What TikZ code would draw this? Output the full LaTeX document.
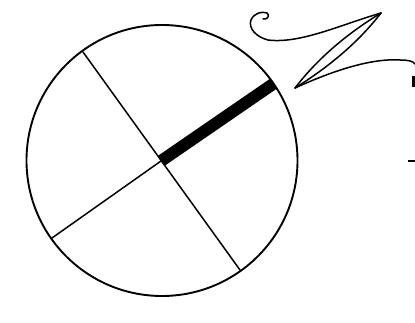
\documentclass[tikz,border=0pt]{standalone}
\usetikzlibrary{calc}
\begin{document}
\begin{tikzpicture}[x=1pt,y=-1pt,
  thinline/.style={line width=1.5pt, line cap=round, line join=round},
  rimline/.style={line width=1.9pt},
  barline/.style={line width=12pt}]
\useasboundingbox (0,0) rectangle (415,323);
\coordinate (c) at (161,161);
\coordinate (a1) at (83,52);
\coordinate (a2) at (240,270);
\coordinate (b1) at (52,238);
\coordinate (b2) at (273,84);
% spokes
\draw[thinline] (a1) -- (a2);
\draw[thinline] (b1) -- (c);
\begin{scope}
\clip (162,160.5) circle[radius=135.5];
\draw[barline] (c) -- ($(c)!1.05!(b2)$);
\end{scope}
% rim
\draw[rimline] (162,160.5) circle[radius=135.5];
% lightning squiggle
\coordinate (top) at (381,13);
\coordinate (bot) at (295,88);
\draw[thinline] (263,19) .. controls (268,20) and (270,15) .. (267,13)
  .. controls (262,11) and (254,13) .. (251,20)
  .. controls (248,28) and (256,37) .. (268,40)
  .. controls (300,44) and (340,25) .. (top);
\draw[thinline] (top) .. controls (348,33) and (318,58) .. (bot);
\draw[thinline] (top) .. controls (357,44) and (327,68) .. (bot);
\draw[thinline] (bot) .. controls (330,72) and (370,58) .. (400,60)
  .. controls (408,60) and (413,61) .. (415,64);
% edge marks
\fill (412,76) rectangle (415,87);
\draw[line width=1.2pt] (408,161) -- (415,161);
\end{tikzpicture}
\end{document}
